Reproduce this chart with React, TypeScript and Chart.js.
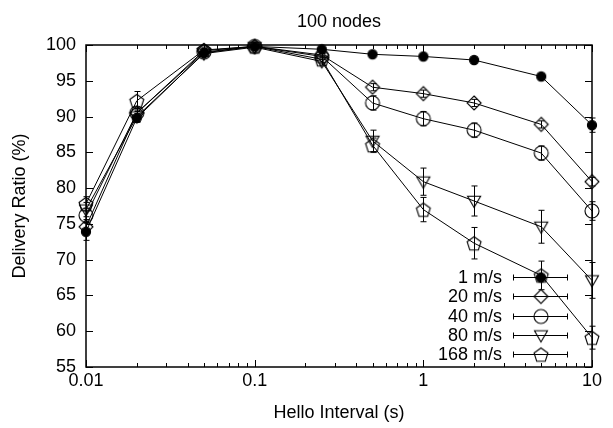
import React, { useEffect, useRef } from 'react';
import { Chart, registerables } from 'chart.js';

Chart.register(...registerables);

// ---- data ----
const HELLO_INTERVALS = [0.01, 0.02, 0.05, 0.1, 0.25, 0.5, 1, 2, 5, 10];
const X_TICKS = [0.01, 0.1, 1, 10];
const SPEED_LABELS = ['1 m/s', '20 m/s', '40 m/s', '80 m/s', '168 m/s'];
const MARKERS = ['filledCircle', 'diamond', 'circle', 'triangleDown', 'pentagon'];
const CHART_TITLE = '100 nodes';

const RATIO_1 = [73.9, 89.8, 98.9, 99.8, 99.4, 98.7, 98.4, 97.9, 95.6, 88.8];
const ERR_1 = [1.2, 0.6, 0.3, 0.2, 0.2, 0.2, 0.2, 0.2, 0.3, 1.0];
const RATIO_20 = [74.6, 90.5, 99.2, 99.8, 98.6, 94.1, 93.2, 91.9, 88.9, 80.9];
const ERR_20 = [1.0, 0.6, 0.3, 0.2, 0.3, 0.5, 0.5, 0.5, 0.5, 0.6];
const RATIO_40 = [76.2, 90.5, 99.0, 99.8, 98.4, 91.9, 89.7, 88.1, 84.9, 76.8];
const ERR_40 = [1.0, 0.6, 0.3, 0.2, 0.4, 1.0, 1.0, 1.0, 1.0, 1.3];
const RATIO_80 = [77.0, 90.0, 98.8, 99.7, 97.7, 86.6, 80.9, 78.2, 74.6, 67.1];
const ERR_80 = [1.0, 0.7, 0.4, 0.2, 0.5, 1.5, 1.9, 2.1, 2.3, 2.5];
const RATIO_168 = [77.8, 92.2, 99.3, 99.8, 98.0, 86.0, 77.0, 72.3, 67.8, 59.1];
const ERR_168 = [1.0, 1.3, 0.4, 0.2, 0.5, 1.0, 1.7, 2.2, 2.0, 1.6];

const SERIES = [RATIO_1, RATIO_20, RATIO_40, RATIO_80, RATIO_168];
const ERRORS = [ERR_1, ERR_20, ERR_40, ERR_80, ERR_168];

const FONT_FAMILY = "'Liberation Sans', Arial, Helvetica, sans-serif";
const FONT_SIZE = 18;

function makeMarker(kind: string): HTMLCanvasElement {
  const size = 22;
  const c = document.createElement('canvas');
  c.width = size;
  c.height = size;
  const ctx = c.getContext('2d')!;
  const cx = size / 2;
  const cy = size / 2;
  ctx.strokeStyle = '#000';
  ctx.fillStyle = '#000';
  ctx.lineWidth = 1.1;
  ctx.beginPath();
  if (kind === 'filledCircle') {
    ctx.arc(cx, cy, 4.6, 0, Math.PI * 2);
    ctx.fill();
    ctx.stroke();
    return c;
  }
  if (kind === 'circle') {
    ctx.arc(cx, cy, 7, 0, Math.PI * 2);
  } else if (kind === 'diamond') {
    const r = 7;
    ctx.moveTo(cx, cy - r);
    ctx.lineTo(cx + r, cy);
    ctx.lineTo(cx, cy + r);
    ctx.lineTo(cx - r, cy);
    ctx.closePath();
  } else if (kind === 'triangleDown') {
    const r = 7.5;
    for (let k = 0; k < 3; k++) {
      const a = Math.PI / 2 + (k * 2 * Math.PI) / 3;
      const px = cx + r * Math.cos(a);
      const py = cy - 1 + r * Math.sin(a);
      if (k === 0) ctx.moveTo(px, py);
      else ctx.lineTo(px, py);
    }
    ctx.closePath();
  } else if (kind === 'pentagon') {
    const r = 7.3;
    for (let k = 0; k < 5; k++) {
      const a = -Math.PI / 2 + (k * 2 * Math.PI) / 5;
      const px = cx + r * Math.cos(a);
      const py = cy + 0.8 + r * Math.sin(a);
      if (k === 0) ctx.moveTo(px, py);
      else ctx.lineTo(px, py);
    }
    ctx.closePath();
  }
  ctx.stroke();
  return c;
}

export default function App() {
  const ref = useRef<HTMLCanvasElement>(null);

  useEffect(() => {
    const canvas = ref.current!;
    const markerImgs = MARKERS.map(makeMarker);

    const framePlugin = {
      id: 'frame',
      beforeDatasetsDraw(chart: any) {
        const { ctx, chartArea: a, scales } = chart;
        const xs = scales.x;
        const ys = scales.y;
        ctx.save();
        ctx.strokeStyle = '#000';
        ctx.lineWidth = 1;
        ctx.beginPath();
        for (let v = 55; v <= 100; v += 5) {
          const y = Math.round(ys.getPixelForValue(v)) + 0.5;
          ctx.moveTo(a.left, y);
          ctx.lineTo(a.left + 7, y);
          ctx.moveTo(a.right, y);
          ctx.lineTo(a.right - 7, y);
        }
        for (const d of [0.01, 0.1, 1]) {
          for (let k = 1; k <= 10; k++) {
            const v = d * k;
            if (v > 10.0001) continue;
            const x = Math.round(xs.getPixelForValue(v)) + 0.5;
            const len = k === 1 || k === 10 ? 7 : 4;
            ctx.moveTo(x, a.bottom);
            ctx.lineTo(x, a.bottom - len);
            ctx.moveTo(x, a.top);
            ctx.lineTo(x, a.top + len);
          }
        }
        ctx.stroke();
        ctx.lineWidth = 1.5;
        ctx.strokeRect(a.left, a.top, a.right - a.left, a.bottom - a.top);
        // title centred over the plot area
        ctx.fillStyle = '#000';
        ctx.font = `${FONT_SIZE}px ${FONT_FAMILY}`;
        ctx.textAlign = 'center';
        ctx.textBaseline = 'middle';
        ctx.fillText(CHART_TITLE, (a.left + a.right) / 2, 22);
        ctx.restore();
      },
    };

    const errorBarPlugin = {
      id: 'errorBars',
      beforeDatasetsDraw(chart: any) {
        const { ctx, scales } = chart;
        const xs = scales.x;
        const ys = scales.y;
        ctx.save();
        ctx.strokeStyle = '#000';
        ctx.lineWidth = 1;
        ctx.beginPath();
        SERIES.forEach((vals, i) => {
          vals.forEach((v, j) => {
            const e = ERRORS[i][j];
            const x = Math.round(xs.getPixelForValue(HELLO_INTERVALS[j])) + 0.5;
            const y1 = ys.getPixelForValue(v + e);
            const y2 = ys.getPixelForValue(v - e);
            ctx.moveTo(x, y1);
            ctx.lineTo(x, y2);
            ctx.moveTo(x - 3, y1);
            ctx.lineTo(x + 3, y1);
            ctx.moveTo(x - 3, y2);
            ctx.lineTo(x + 3, y2);
          });
        });
        ctx.stroke();
        ctx.restore();
      },
    };

    const legendPlugin = {
      id: 'gpLegend',
      afterDraw(chart: any) {
        const { ctx } = chart;
        ctx.save();
        ctx.fillStyle = '#000';
        ctx.strokeStyle = '#000';
        ctx.lineWidth = 1;
        ctx.font = `${FONT_SIZE}px ${FONT_FAMILY}`;
        ctx.textAlign = 'right';
        ctx.textBaseline = 'middle';
        SPEED_LABELS.forEach((label, i) => {
          const y = Math.round(277 + i * 19.3) + 0.5;
          ctx.fillText(label, 502, y + 1);
          ctx.beginPath();
          ctx.moveTo(513, y);
          ctx.lineTo(568, y);
          ctx.moveTo(513.5, y - 3);
          ctx.lineTo(513.5, y + 3);
          ctx.moveTo(567.5, y - 3);
          ctx.lineTo(567.5, y + 3);
          ctx.stroke();
          const img = markerImgs[i];
          ctx.drawImage(img, 541 - img.width / 2, y - img.height / 2);
        });
        ctx.restore();
      },
    };

    const datasets = SERIES.map((vals, i) => ({
      label: SPEED_LABELS[i],
      data: HELLO_INTERVALS.map((x, j) => ({ x, y: vals[j] })),
      borderColor: '#000',
      backgroundColor: '#000',
      borderWidth: 1,
      pointStyle: markerImgs[i] as any,
      pointRadius: 8,
      fill: false,
      tension: 0,
      clip: false as any,
    }));

    const font = { family: FONT_FAMILY, size: FONT_SIZE };

    const chart = new Chart(canvas, {
      type: 'line',
      data: { datasets },
      options: {
        animation: false,
        responsive: false,
        devicePixelRatio: 1,
        layout: { padding: { left: 0, right: 21, top: 45, bottom: 0 } },
        plugins: {
          legend: { display: false },
          tooltip: { enabled: false },
          title: { display: false },
        },
        scales: {
          x: {
            type: 'logarithmic',
            min: 0.01,
            max: 10,
            afterBuildTicks: (s: any) => {
              s.ticks = X_TICKS.map((v) => ({ value: v }));
            },
            afterFit: (s: any) => {
              s.height = 61;
            },
            ticks: {
              callback: (v: any) => String(v),
              autoSkip: false,
              maxRotation: 0,
              color: '#000',
              font,
              padding: 3,
            },
            grid: { display: false, drawTicks: false },
            border: { display: false },
            title: {
              display: true,
              text: 'Hello Interval (s)',
              color: '#000',
              font,
              padding: { top: 0, bottom: 4 },
            },
          },
          y: {
            min: 55,
            max: 100,
            afterFit: (s: any) => {
              s.width = 86;
            },
            ticks: { stepSize: 5, color: '#000', font, padding: 10 },
            grid: { display: false, drawTicks: false },
            border: { display: false },
            title: {
              display: true,
              text: 'Delivery Ratio (%)',
              color: '#000',
              font,
              padding: { top: 9, bottom: 0 },
            },
          },
        },
      } as any,
      plugins: [framePlugin, errorBarPlugin, legendPlugin],
    });

    return () => chart.destroy();
  }, []);

  return (
    <canvas
      ref={ref}
      width={613}
      height={428}
      style={{ position: 'fixed', left: 0, top: 0, width: 613, height: 428, background: '#fff' }}
    />
  );
}
